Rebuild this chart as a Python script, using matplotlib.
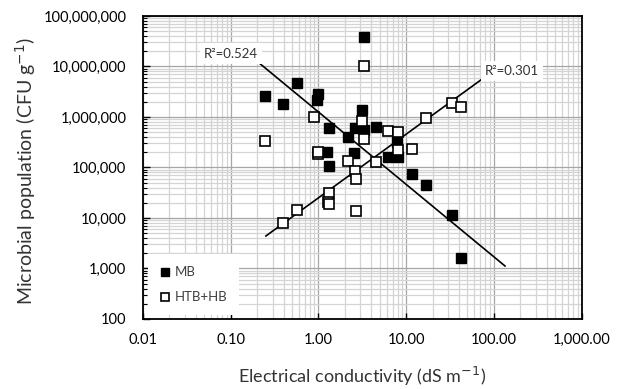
import numpy as np
import matplotlib
matplotlib.use("Agg")
import matplotlib.pyplot as plt
from matplotlib.ticker import LogLocator, NullFormatter

plt.rcParams['font.family'] = ['Lato', 'DejaVu Sans']

# MB (filled squares)
mb_ec = [0.246, 0.39, 0.57, 1.0, 0.96, 1.32, 1.24, 1.32, 2.19, 2.61, 3.16,
         3.34, 3.30, 4.5, 2.57, 7.8, 6.27, 8.0, 11.8, 16.9, 33, 42.3]
mb_pop = [2.6e6, 1.8e6, 4.7e6, 2.85e6, 2.17e6, 6.1e5, 2.06e5, 1.09e5, 4.07e5,
          5.97e5, 1.38e6, 3.84e7, 5.5e5, 6.3e5, 1.96e5, 3.24e5, 1.59e5,
          1.59e5, 7.4e4, 4.6e4, 1.15e4, 1.64e3]

# HTB+HB (open squares)
hb_ec = [0.246, 0.90, 3.34, 3.16, 3.30, 0.98, 1.0, 2.19, 2.61, 2.68, 1.32,
         1.28, 1.32, 0.574, 0.392, 2.66, 6.27, 8.0, 8.0, 11.8, 16.9, 33, 42.3,
         4.5]
hb_pop = [3.35e5, 9.85e5, 1.02e7, 8.3e5, 3.6e5, 1.82e5, 2.06e5, 1.35e5,
          8.5e4, 5.9e4, 3.08e4, 2.1e4, 1.87e4, 1.44e4, 8.1e3, 1.4e4, 5.36e5,
          4.98e5, 2.22e5, 2.29e5, 9.7e5, 1.92e6, 1.6e6, 1.3e5]

# trendline end points (power trendlines)
mb_trend_x = [0.203, 134]
mb_trend_y = [1.24e7, 1.12e3]
hb_trend_x = [0.252, 71]
hb_trend_y = [4.4e3, 5.4e6]
mb_r2 = "R²=0.524"
hb_r2 = "R²=0.301"

x_ticks = [0.01, 0.1, 1, 10, 100, 1000]
x_ticklabels = ["0.01", "0.10", "1.00", "10.00", "100.00", "1,000.00"]
y_ticks = [1e2, 1e3, 1e4, 1e5, 1e6, 1e7, 1e8]
y_ticklabels = ["100", "1,000", "10,000", "100,000", "1,000,000",
                "10,000,000", "100,000,000"]

fig = plt.figure(figsize=(6.2, 3.89), dpi=100)
ax = fig.add_axes([0.2306, 0.180, 0.7074, 0.7789])
ax.set_xscale('log')
ax.set_yscale('log')
ax.set_xlim(0.01, 1000)
ax.set_ylim(100, 1e8)

ax.grid(which='major', color='#a6a6a6', linewidth=0.9)
ax.grid(which='minor', color='#d4d4d4', linewidth=0.9)
ax.set_axisbelow(True)

ax.xaxis.set_minor_locator(LogLocator(base=10, subs=np.arange(2, 10), numticks=20))
ax.yaxis.set_minor_locator(LogLocator(base=10, subs=np.arange(2, 10), numticks=20))
ax.xaxis.set_minor_formatter(NullFormatter())
ax.yaxis.set_minor_formatter(NullFormatter())
ax.set_xticks(x_ticks)
ax.set_xticklabels(x_ticklabels)
ax.set_yticks(y_ticks)
ax.set_yticklabels(y_ticklabels)

ax.tick_params(axis='x', which='major', direction='in', length=4, width=1,
               pad=10, labelsize=10.5, colors='black')
ax.tick_params(axis='x', which='minor', length=0)
ax.tick_params(axis='y', which='major', direction='in', length=5, width=1,
               pad=12, labelsize=10.5)
ax.tick_params(axis='y', which='minor', direction='in', length=3, width=0.8)
for s in ax.spines.values():
    s.set_color('black')
    s.set_linewidth(1.3)

# trendlines (straight in log-log space)
def trend(xr, yr):
    lx, ly = np.log10(xr), np.log10(yr)
    b = (ly[1] - ly[0]) / (lx[1] - lx[0])
    xx = np.logspace(lx[0], lx[1], 50)
    return xx, 10 ** (ly[0] + b * (np.log10(xx) - lx[0]))

xx, yy = trend(mb_trend_x, mb_trend_y)
ax.plot(xx, yy, color='black', linewidth=1.2, zorder=3)
xx, yy = trend(hb_trend_x, hb_trend_y)
ax.plot(xx, yy, color='black', linewidth=1.2, zorder=3)

ax.plot(mb_ec, mb_pop, linestyle='none', marker='s', markersize=7.5,
        markerfacecolor='black', markeredgecolor='black', label='MB', zorder=4)
ax.plot(hb_ec, hb_pop, linestyle='none', marker='s', markersize=7.5,
        markerfacecolor='white', markeredgecolor='black', markeredgewidth=1.2,
        label='HTB+HB', zorder=4)

bbox = dict(facecolor='white', edgecolor='none', pad=3)
ax.text(0.1007, 1.8e7, mb_r2, fontsize=9.5, ha='center', va='center',
        bbox=bbox, zorder=5, color='#333333')
ax.text(161, 8.15e6, hb_r2, fontsize=9.5, ha='center', va='center',
        bbox=bbox, zorder=5, color='#333333')

leg = ax.legend(loc='lower left', bbox_to_anchor=(0.012, 0.012), frameon=True,
                fancybox=False, edgecolor='none', facecolor='white',
                framealpha=1, fontsize=9.5, markerscale=0.7, handlelength=0.8,
                handletextpad=0.3, labelspacing=1.0, borderaxespad=0,
                borderpad=0.9)
for t in leg.get_texts():
    t.set_color('#404040')

ax.set_xlabel("Electrical conductivity (dS m$^{-1}$)", fontsize=13,
              color='#333333')
ax.set_ylabel("Microbial population (CFU g$^{-1}$)", fontsize=14,
              color='#333333')
ax.xaxis.set_label_coords(0.5, -0.152)
ax.yaxis.set_label_coords(-0.239, 0.487)

fig.savefig("out.png", dpi=100)
